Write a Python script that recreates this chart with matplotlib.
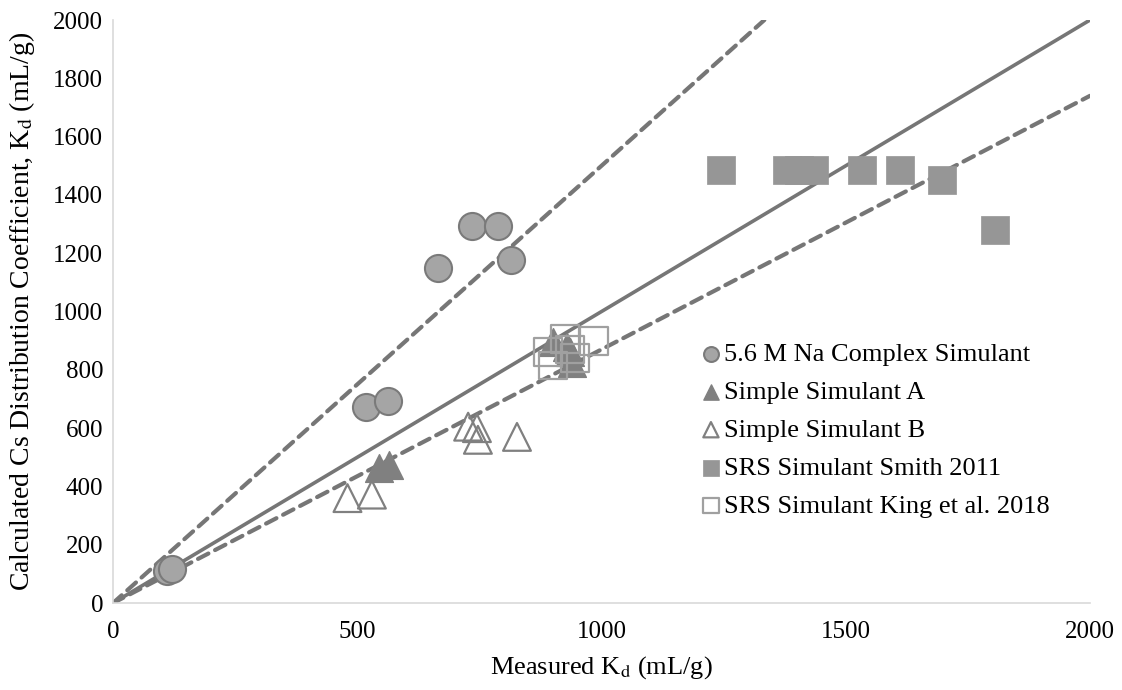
import matplotlib.pyplot as plt
import numpy as np

plt.rcParams['font.family'] = ['Liberation Serif', 'DejaVu Serif']
plt.rcParams['mathtext.fontset'] = 'stix'

# 5.6 M Na complex simulant
complex_x = [110, 120, 517, 563, 665, 735, 788, 815]
complex_y = [110, 118, 672, 693, 1148, 1292, 1292, 1177]

# Simple simulant A
simple_a_x = [545, 565, 900, 930, 935, 940]
simple_a_y = [462, 475, 895, 880, 860, 825]

# Simple simulant B
simple_b_x = [480, 530, 727, 745, 747, 827]
simple_b_y = [360, 372, 605, 600, 560, 570]

# SRS simulant Smith 2011
smith_x = [1245, 1380, 1405, 1435, 1533, 1610, 1697, 1805]
smith_y = [1485, 1485, 1485, 1485, 1485, 1485, 1450, 1278]

# SRS simulant King et al. 2018
king_x = [890, 900, 925, 945, 985, 935]
king_y = [862, 815, 905, 840, 898, 870]

# parity line and +/- bounds
line_x = [0, 2000]
upper_slope = 1.5
lower_slope = 0.87

fig, ax = plt.subplots(figsize=(11.22, 6.9), dpi=100)
fig.subplots_adjust(left=0.1007, right=0.9715, bottom=0.126, top=0.971)

lc = '#767676'
xs = np.array(line_x)
ax.plot(xs, xs, color=lc, lw=2.6, zorder=2)
ax.plot(xs, upper_slope * xs, color=lc, lw=3, ls=(0, (2.8, 1.8)), dash_capstyle='round', zorder=2)
ax.plot(xs, lower_slope * xs, color=lc, lw=3, ls=(0, (2.8, 1.8)), dash_capstyle='round', zorder=2)

ax.scatter(complex_x, complex_y, s=380, marker='o', facecolor='#a5a5a5', edgecolor='#7a7a7a',
           linewidth=1.5, label='5.6 M Na Complex Simulant', zorder=3)
ax.scatter(simple_a_x, simple_a_y, s=400, marker='^', facecolor='#808080', edgecolor='#808080',
           linewidth=1, label='Simple Simulant A', zorder=3)
ax.scatter(simple_b_x, simple_b_y, s=400, marker='^', facecolor='none', edgecolor='#808080',
           linewidth=1.6, label='Simple Simulant B', zorder=3)
ax.scatter(smith_x, smith_y, s=400, marker='s', facecolor='#969696', edgecolor='#969696',
           linewidth=0.5, label='SRS Simulant Smith 2011', zorder=3)
ax.scatter(king_x, king_y, s=400, marker='s', facecolor='none', edgecolor='#a0a0a0',
           linewidth=1.6, label='SRS Simulant King et al. 2018', zorder=3)

ax.set_xlim(0, 2000)
ax.set_ylim(0, 2000)
ax.set_xticks(np.arange(0, 2001, 500))
ax.set_yticks(np.arange(0, 2001, 200))
ax.tick_params(length=0, labelsize=18)
ax.tick_params(axis='x', pad=13)
ax.tick_params(axis='y', pad=7)

for s in ['top', 'right']:
    ax.spines[s].set_visible(False)
for s in ['left', 'bottom']:
    ax.spines[s].set_color('#d9d9d9')
    ax.spines[s].set_linewidth(1.2)

ax.set_xlabel('Measured K$_\\mathrm{d}$ (mL/g)', fontsize=19, labelpad=8)
ax.set_ylabel('Calculated Cs Distribution Coefficient, K$_\\mathrm{d}$ (mL/g)', fontsize=20, labelpad=12)

ax.legend(loc='center left', bbox_to_anchor=(0.585, 0.297), frameon=False, fontsize=19,
          markerscale=0.55, handletextpad=0.0, labelspacing=0.55, handlelength=1.0, borderpad=0)

fig.savefig('out.png', dpi=100)
